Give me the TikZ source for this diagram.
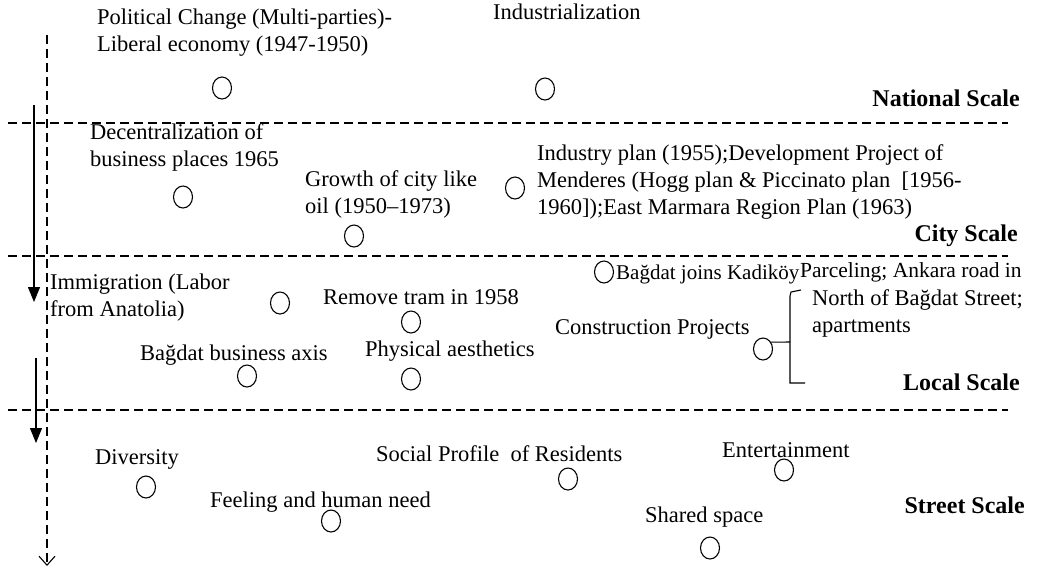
\documentclass[tikz,border=0pt]{standalone}
\usepackage{fontspec}
\setmainfont{Liberation Serif}
\usetikzlibrary{arrows.meta,shapes.geometric}
\begin{document}
\begin{tikzpicture}[x=1pt,y=-1pt,
  lbl/.style={inner sep=0pt,anchor=base west,font=\fontsize{22.5}{27}\selectfont},
  mlbl/.style={inner sep=0pt,anchor=north west,align=left,font=\fontsize{22.5}{27}\selectfont},
  scalelbl/.style={inner sep=0pt,anchor=base east,font=\fontsize{24}{28}\selectfont\bfseries},
  circ/.style={draw,ellipse,minimum width=19pt,minimum height=22pt,inner sep=0pt,line width=1.1pt},
  sep/.style={dash pattern=on 9pt off 5pt,line width=1.1pt},
  axis/.style={dash pattern=on 9pt off 5pt,line width=1.1pt,-{Straight Barb[length=9pt,width=16pt,line width=1.1pt]}},
  flow/.style={line width=1.2pt,-{Triangle[length=15pt,width=12pt]}}
]
\useasboundingbox (0,0) rectangle (1041,574);
% separators
\coordinate (s1a) at (8,123); \coordinate (s1b) at (1008,123);
\coordinate (s2a) at (8,256); \coordinate (s2b) at (1008,256);
\coordinate (s3a) at (8,410); \coordinate (s3b) at (1008,410);
\draw[sep] (s1a) -- (s1b);
\draw[sep] (s2a) -- (s2b);
\draw[sep] (s3a) -- (s3b);
% axis
\coordinate (ax0) at (47,35); \coordinate (ax1) at (47,566);
\draw[axis] (ax0) -- (ax1);
\coordinate (f1a) at (34,105); \coordinate (f1b) at (34,302);
\draw[flow] (f1a) -- (f1b);
\coordinate (f2a) at (36,358); \coordinate (f2b) at (36,443);
\draw[flow] (f2a) -- (f2b);
% national
\node[mlbl] (t1) at (97,9) {Political Change (Multi-parties)-\\Liberal economy (1947-1950)};
\node[circ] (c1) at (222,88) {};
\node[lbl] (t2) at (493,19) {Industrialization};
\node[circ] (c2) at (545,89) {};
\node[scalelbl] (n1) at (1020,106) {National Scale};
% city
\node[mlbl] (t3) at (90,123) {Decentralization of\\business places 1965};
\node[circ] (c3) at (183,197) {};
\node[mlbl] (t4) at (305,170) {Growth of city like\\oil (1950--1973)};
\node[circ] (c4) at (354,236) {};
\node[circ] (c5) at (515,188) {};
\node[mlbl] (t5) at (537,144) {Industry plan (1955);Development Project of\\Menderes (Hogg plan \& Piccinato plan\ \ [1956-\\1960]);East Marmara Region Plan (1963)};
\node[scalelbl] (n2) at (1018,241) {City Scale};
% local
\node[mlbl] (t6) at (50,274) {Immigration (Labor\\from Anatolia)};
\node[circ] (c6) at (280,303) {};
\node[lbl] (t7) at (323,304) {Remove tram in 1958};
\node[circ] (c7) at (411,322) {};
\node[lbl] (t8) at (140,360) {Bağdat business axis};
\node[circ] (c8) at (247,376) {};
\node[lbl] (t9) at (365,356) {Physical aesthetics};
\node[circ] (c9) at (411,379) {};
\node[circ] (c10) at (604,272) {};
\node[lbl,font=\fontsize{21}{25}\selectfont] (t10) at (616,279) {Bağdat joins Kadiköy};
\node[mlbl,font=\fontsize{21.5}{26}\selectfont] (t11) at (800,262) {Parceling;\ Ankara road in};
\node[mlbl] (t12) at (812,289) {North of Bağdat Street;\\apartments};
\node[lbl] (t13) at (555,334) {Construction Projects};
\node[circ] (c11) at (763,349) {};
\coordinate (bm) at (790,342);
\coordinate (bt) at (801,290);
\coordinate (bb) at (805,383);
\draw[line width=1.1pt] (c11.40) -- (bm);
\draw[line width=1.1pt] (bt) -- (791,292) -- (790,296) -- (790,383) -- (bb);
\node[scalelbl] (n3) at (1020,390) {Local Scale};
% street
\node[lbl] (t14) at (95,464) {Diversity};
\node[circ] (c12) at (146,487) {};
\node[lbl] (t15) at (210,507) {Feeling and human need};
\node[circ] (c13) at (331,521) {};
\node[lbl] (t16) at (376,461) {Social Profile\ \ of Residents};
\node[circ] (c14) at (568,479) {};
\node[lbl] (t17) at (722,457) {Entertainment};
\node[circ] (c15) at (784,470) {};
\node[lbl] (t18) at (645,522) {Shared space};
\node[circ] (c16) at (710,548) {};
\node[scalelbl] (n4) at (1025,513) {Street Scale};
\end{tikzpicture}
\end{document}
